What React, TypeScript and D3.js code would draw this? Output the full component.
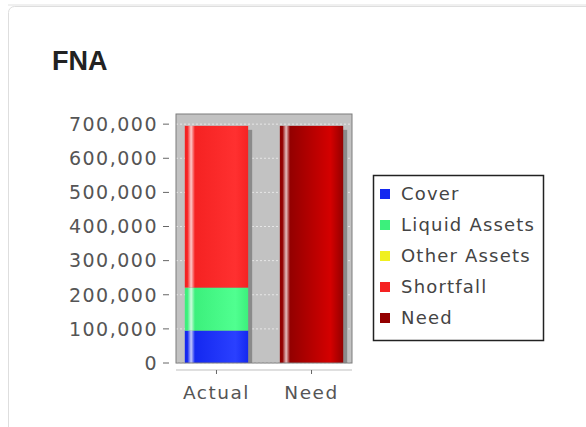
import React from "react";
import * as d3 from "d3";

const categories = ["Actual", "Need"];
const seriesNames = ["Cover", "Liquid Assets", "Other Assets", "Shortfall", "Need"];
const seriesColors = ["#1428f0", "#3cf07c", "#f0f020", "#f52222", "#930000"];
const seriesBright = ["#2a40ff", "#50ff90", "#ffff40", "#ff3030", "#d40000"];
const cover = [95000, 0];
const liquidAssets = [126000, 0];
const otherAssets = [0, 0];
const shortfall = [474000, 0];
const need = [0, 695000];
const yTicks = [0, 100000, 200000, 300000, 400000, 500000, 600000, 700000];

const W = 586;
const H = 427;
const plot = { left: 176, right: 352, top: 114, bottom: 363 };

export default function App() {
  const series = [cover, liquidAssets, otherAssets, shortfall, need];
  const rows = categories.map((c, i) => {
    const r: any = { cat: c };
    seriesNames.forEach((s, k) => (r[s] = series[k][i]));
    return r;
  });
  const stacked = d3.stack().keys(seriesNames)(rows);
  const maxTotal = d3.max(rows, (r: any) => seriesNames.reduce((a, s) => a + r[s], 0)) as number;

  const y = d3.scaleLinear().domain([0, maxTotal * 1.05]).range([plot.bottom, plot.top]);
  const pw = plot.right - plot.left;
  const x = d3
    .scaleBand()
    .domain(categories)
    .range([plot.left + pw * 0.05, plot.right - pw * 0.05])
    .paddingInner(1 / 3)
    .paddingOuter(0);
  const bw = x.bandwidth();
  const fmt = d3.format(",");
  const font = "'DejaVu Sans', sans-serif";

  return (
    <svg width={W} height={H} style={{ position: "absolute", left: 0, top: 0, background: "#fff" }}>
      <defs>
        {seriesNames.map((s, k) => (
          <linearGradient key={s} id={`g${k}`} x1="0" x2="1" y1="0" y2="0">
            <stop offset="0" stopColor={seriesColors[k]} />
            <stop offset="0.04" stopColor={seriesColors[k]} />
            <stop offset="0.1" stopColor={d3.interpolateRgb(seriesColors[k], "#fff")(0.75)} />
            <stop offset="0.16" stopColor={seriesColors[k]} />
            <stop offset="0.8" stopColor={seriesBright[k]} />
            <stop offset="1" stopColor={seriesColors[k]} />
          </linearGradient>
        ))}
        <clipPath id="plotclip">
          <rect x={plot.left} y={plot.top} width={pw} height={plot.bottom - plot.top} />
        </clipPath>
      </defs>
      <line x1={8} x2={W} y1={5} y2={5} stroke="#f0f0f0" strokeWidth={2} />
      <rect x={8.5} y={6.5} width={640} height={480} rx={6} fill="#fff" stroke="#dedede" />
      <text x={52} y={70} fontFamily="'Liberation Sans', Arial, sans-serif" fontWeight="bold" fontSize={27} fill="#222">
        FNA
      </text>

      {/* plot background */}
      <rect x={plot.left} y={plot.top} width={pw} height={plot.bottom - plot.top} fill="#c2c2c2" />
      {yTicks.map((t) => (
        <line
          key={t}
          x1={plot.left}
          x2={plot.right}
          y1={y(t)}
          y2={y(t)}
          stroke="#e6e6e6"
          strokeDasharray="2,2"
          strokeWidth={1}
        />
      ))}
      <g clipPath="url(#plotclip)">
        {categories.map((c, i) => {
          const top = d3.max(stacked, (s) => (s[i][1] > s[i][0] ? s[i][1] : 0)) as number;
          return (
            <rect
              key={"sh" + c}
              x={(x(c) as number) + 4}
              y={y(top) + 4}
              width={bw}
              height={y(0) - y(top)}
              fill="#8a8a8a"
            />
          );
        })}
        {stacked.map((s, k) =>
          s.map((d, i) =>
            d[1] > d[0] ? (
              <rect
                key={k + "-" + i}
                x={x(categories[i]) as number}
                y={y(d[1])}
                width={bw}
                height={y(d[0]) - y(d[1])}
                fill={`url(#g${k})`}
              />
            ) : null
          )
        )}
      </g>
      <rect
        x={plot.left}
        y={plot.top}
        width={pw}
        height={plot.bottom - plot.top}
        fill="none"
        stroke="#7c7c7c"
        strokeWidth={1}
      />

      {/* y axis */}
      {yTicks.map((t) => (
        <g key={"yt" + t}>
          <line x1={163} x2={169} y1={y(t)} y2={y(t)} stroke="#666" />
          <text
            x={158}
            y={y(t) + 6.8}
            textAnchor="end"
            fontFamily={font}
            fontSize={19}
            letterSpacing={1.5}
            fill="#555"
          >
            {fmt(t)}
          </text>
        </g>
      ))}

      {/* x axis */}
      <line x1={plot.left} x2={plot.right} y1={370} y2={370} stroke="#d4d4d4" strokeWidth={1.5} />
      {categories.map((c) => {
        const cx = (x(c) as number) + bw / 2;
        return (
          <g key={"xt" + c}>
            <line x1={cx} x2={cx} y1={370} y2={374} stroke="#666" />
            <text x={cx} y={399} textAnchor="middle" fontFamily={font} fontSize={18.5} letterSpacing={1.5} fill="#555">
              {c}
            </text>
          </g>
        );
      })}

      {/* legend */}
      <rect x={373.5} y={175.5} width={170} height={165} fill="#fff" stroke="#222" strokeWidth={1.5} />
      {seriesNames.map((s, k) => {
        const by = 200 + k * 31;
        return (
          <g key={"lg" + s}>
            <rect x={380} y={by - 11} width={10} height={10} fill={seriesColors[k]} />
            <text x={401} y={by} fontFamily={font} fontSize={18} letterSpacing={1.2} fill="#444">
              {s}
            </text>
          </g>
        );
      })}
    </svg>
  );
}
